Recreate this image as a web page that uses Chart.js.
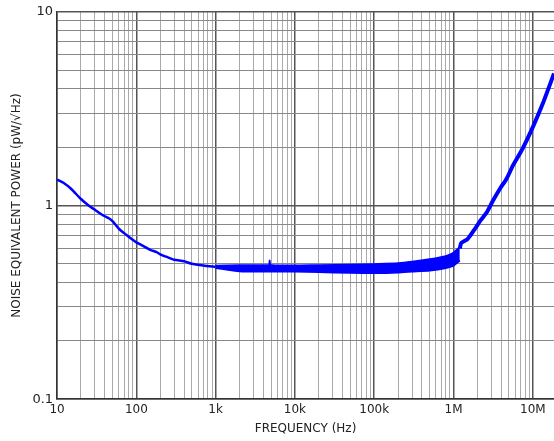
<!DOCTYPE html>
<html>
<head>
<meta charset="utf-8">
<script src="https://cdn.jsdelivr.net/npm/chart.js@4"></script>
<style>
  body { margin: 0; background: #fff; }
  #wrap { width: 554px; height: 441px; }
</style>
</head>
<body>
<div id="wrap"><canvas id="myChart"></canvas></div>
<script>
// low frequency part of the curve (Hz, pW/rtHz)
const lowFreq = [10, 12, 15, 20, 25, 30, 35, 40, 45, 50, 60, 70, 80, 90, 100, 120, 150, 180, 200, 250, 300, 400, 500, 700, 1000];
const lowNep = [1.36, 1.31, 1.22, 1.08, 1.0, 0.95, 0.91, 0.88, 0.86, 0.83, 0.76, 0.72, 0.69, 0.665, 0.645, 0.62, 0.59, 0.575, 0.56, 0.54, 0.525, 0.515, 0.5, 0.49, 0.482];

// noisy band in the middle (lower and upper edge)
const bandFreq = [1000, 2000, 4700, 4800, 4900, 10000, 20000, 50000, 100000, 200000, 300000, 500000, 800000, 1000000, 1200000];
const bandLow = [0.476, 0.458, 0.456, 0.456, 0.456, 0.456, 0.453, 0.449, 0.448, 0.451, 0.456, 0.462, 0.476, 0.49, 0.52];
const bandHigh = [0.489, 0.492, 0.493, 0.52, 0.493, 0.49, 0.492, 0.494, 0.498, 0.503, 0.512, 0.528, 0.548, 0.57, 0.61];

// rise at high frequency
const highFreq = [1200000, 1250000, 1500000, 1870000, 2200000, 2620000, 3150000, 3850000, 4690000, 5620000, 6900000, 7600000, 10000000, 13400000, 18500000];
const highNep = [0.6, 0.64, 0.67, 0.76, 0.84, 0.92, 1.06, 1.22, 1.38, 1.61, 1.86, 2.0, 2.54, 3.37, 4.8];

const xLabels = { 10: '10', 100: '100', 1000: '1k', 10000: '10k', 100000: '100k', 1000000: '1M', 10000000: '10M' };
const yLabels = { 0.1: '0.1', 1: '1', 10: '10' };

const toPts = (xs, ys) => xs.map((x, i) => ({ x: x, y: ys[i] }));

function logTicks(min, max) {
  const out = [];
  for (let d = Math.pow(10, Math.floor(Math.log10(min))); d <= max; d *= 10) {
    for (let k = 1; k <= 9; k++) {
      const v = +(k * d).toPrecision(3);
      if (v >= min * 0.999 && v <= max * 1.001) out.push({ value: v, major: k === 1 });
    }
  }
  return out;
}

function isDecade(v) {
  const l = Math.log10(v);
  return Math.abs(l - Math.round(l)) < 1e-6;
}

const blue = '#0000ff';
const font = { family: 'DejaVu Sans', size: 12 };

const ctx = document.getElementById('myChart');
new Chart(ctx, {
  type: 'line',
  data: {
    datasets: [
      { data: toPts(lowFreq, lowNep), borderColor: blue, borderWidth: 2.5, pointRadius: 0, tension: 0.2 },
      { data: toPts(bandFreq, bandLow), borderColor: blue, borderWidth: 2, pointRadius: 0, tension: 0.2 },
      { data: toPts(bandFreq, bandHigh), borderColor: blue, borderWidth: 2, pointRadius: 0, tension: 0.2, fill: '-1', backgroundColor: blue },
      { data: toPts(highFreq, highNep), borderColor: blue, borderWidth: 4, pointRadius: 0, tension: 0.2 }
    ]
  },
  options: {
    responsive: true,
    maintainAspectRatio: false,
    animation: false,
    layout: { padding: { left: 10, top: 6, right: 0, bottom: 5 } },
    plugins: { legend: { display: false }, tooltip: { enabled: false } },
    scales: {
      x: {
        type: 'logarithmic',
        min: 10,
        max: 18500000,
        afterBuildTicks: (s) => { s.ticks = logTicks(10, 18500000); },
        ticks: {
          autoSkip: false, maxRotation: 0, color: '#222', font: font, padding: 3,
          callback: (v) => xLabels[v] || ''
        },
        grid: {
          drawTicks: false,
          color: (c) => isDecade(c.tick.value) ? '#555' : '#aaa',
          lineWidth: (c) => isDecade(c.tick.value) ? 1.5 : 1
        },
        border: { color: '#333', width: 1.5 },
        title: { display: true, text: 'FREQUENCY (Hz)', color: '#222', font: font, padding: { top: 2, bottom: 0 } }
      },
      y: {
        type: 'logarithmic',
        min: 0.1,
        max: 10,
        afterBuildTicks: (s) => { s.ticks = logTicks(0.1, 10); },
        ticks: {
          autoSkip: false, color: '#222', font: { family: 'DejaVu Sans', size: 13 }, padding: 4,
          callback: (v) => yLabels[v] || ''
        },
        grid: {
          drawTicks: false,
          color: (c) => isDecade(c.tick.value) ? '#555' : '#888',
          lineWidth: (c) => isDecade(c.tick.value) ? 1.5 : 1
        },
        border: { color: '#333', width: 1.5 },
        title: { display: true, text: 'NOISE EQUIVALENT POWER (pW/√Hz)', color: '#222', font: font, padding: { top: 0, bottom: 4 } }
      }
    }
  }
});
</script>
</body>
</html>
